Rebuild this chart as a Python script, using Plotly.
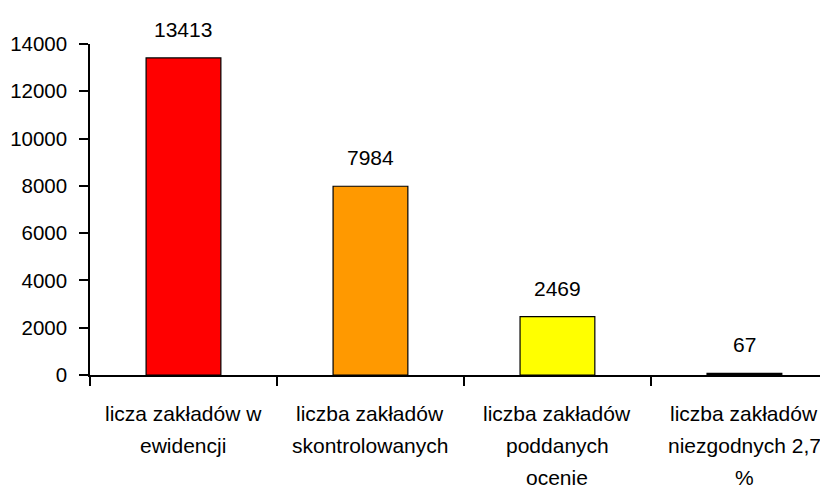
import plotly.graph_objects as go

categories = ["licza zakładów w ewidencji", "liczba zakładów skontrolowanych",
              "liczba zakładów poddanych ocenie", "liczba zakładów niezgodnych 2,7 %"]
tick_labels = ["licza zakładów w<br>ewidencji", "liczba zakładów<br>skontrolowanych",
               "liczba zakładów<br>poddanych<br>ocenie", "liczba zakładów<br>niezgodnych 2,7<br>%"]
values = [13413, 7984, 2469, 67]
colors = ["#FF0000", "#FF9900", "#FFFF00", "#000000"]
y_ticks = [0, 2000, 4000, 6000, 8000, 10000, 12000, 14000]

FONT = "Liberation Sans, Arial, sans-serif"

fig = go.Figure(go.Bar(
    x=categories, y=values, width=0.4,
    marker=dict(color=colors, line=dict(color="black", width=1.2)),
))

for c, v in zip(categories, values):
    fig.add_annotation(x=c, y=v, text=str(v), showarrow=False, yanchor="bottom",
                       yshift=15, font=dict(family=FONT, size=21, color="black"))

# category labels, one annotation per line for the wide line spacing
for c, lab in zip(categories, tick_labels):
    for i, line in enumerate(lab.split("<br>")):
        fig.add_annotation(x=c, y=0, yref="paper", text=line, showarrow=False,
                           yanchor="middle", yshift=-(38 + 32 * i),
                           font=dict(family=FONT, size=21, color="black"))

fig.update_layout(
    width=820, height=483,
    margin=dict(l=82, r=0, t=36, b=116),
    plot_bgcolor="white", paper_bgcolor="white",
    showlegend=False,
    font=dict(family=FONT, size=20, color="black"),
)
fig.update_xaxes(
    range=[-0.5, 3.447], tickson="boundaries", ticks="outside", ticklen=9,
    tickwidth=1.5, tickcolor="black", showline=True, linecolor="black", linewidth=1.5,
    showticklabels=False, showgrid=False, zeroline=False, automargin=False,
)
fig.update_yaxes(
    range=[0, 14000], tickvals=y_ticks, ticktext=[str(t) for t in y_ticks],
    ticks="outside", ticklen=9, tickwidth=1.5, tickcolor="black",
    showline=True, linecolor="black", linewidth=1.5, showgrid=False, zeroline=False,
    tickfont=dict(family=FONT, size=20.5, color="black"), automargin=False,
    ticklabelstandoff=8,
)

fig.write_html("out.html")
